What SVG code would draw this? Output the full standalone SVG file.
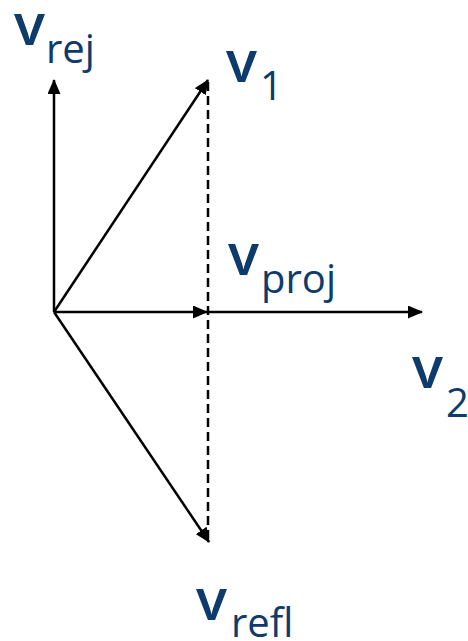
<svg xmlns="http://www.w3.org/2000/svg" width="468" height="641" viewBox="0 0 468 641">
<defs>
<marker id="ah" viewBox="0 0 15 13" refX="14" refY="6.5" markerWidth="15" markerHeight="13" markerUnits="userSpaceOnUse" orient="auto">
<path d="M0,0 L15,6.5 L0,13 Z" fill="#000"/>
</marker>
<style>
.v{font-family:"Open Sans","Liberation Sans",sans-serif;font-weight:600;font-size:58px;fill:#0d3b6c}
.s{font-family:"Open Sans","Liberation Sans",sans-serif;font-size:40px;fill:#0d3b6c}
.ln{stroke:#000;stroke-width:2.5;fill:none}
</style>
</defs>
<rect width="468" height="641" fill="#fff"/>
<g id="connectors">
<line class="ln" x1="208" y1="82" x2="208" y2="542" stroke-dasharray="9,5"/>
<line class="ln" x1="54" y1="312" x2="54" y2="80" marker-end="url(#ah)"/>
<line class="ln" x1="54" y1="312" x2="208" y2="80" marker-end="url(#ah)"/>
<line class="ln" x1="54" y1="312" x2="207" y2="312" marker-end="url(#ah)"/>
<line class="ln" x1="207" y1="312" x2="422" y2="312" marker-end="url(#ah)"/>
<line class="ln" x1="54" y1="312" x2="209" y2="542" marker-end="url(#ah)"/>
</g>
<g id="vrej"><text x="14" y="45" class="v">v</text><text x="46" y="63" class="s">rej</text></g>
<g id="v1"><text x="226" y="82" class="v">v</text><text x="260" y="100" class="s">1</text></g>
<g id="vproj"><text x="228" y="275" class="v">v</text><text x="261" y="293" class="s">proj</text></g>
<g id="v2"><text x="412" y="388" class="v">v</text><text x="446" y="417" class="s">2</text></g>
<g id="vrefl"><text x="196" y="620" class="v">v</text><text x="231" y="637" class="s">refl</text></g>
</svg>
